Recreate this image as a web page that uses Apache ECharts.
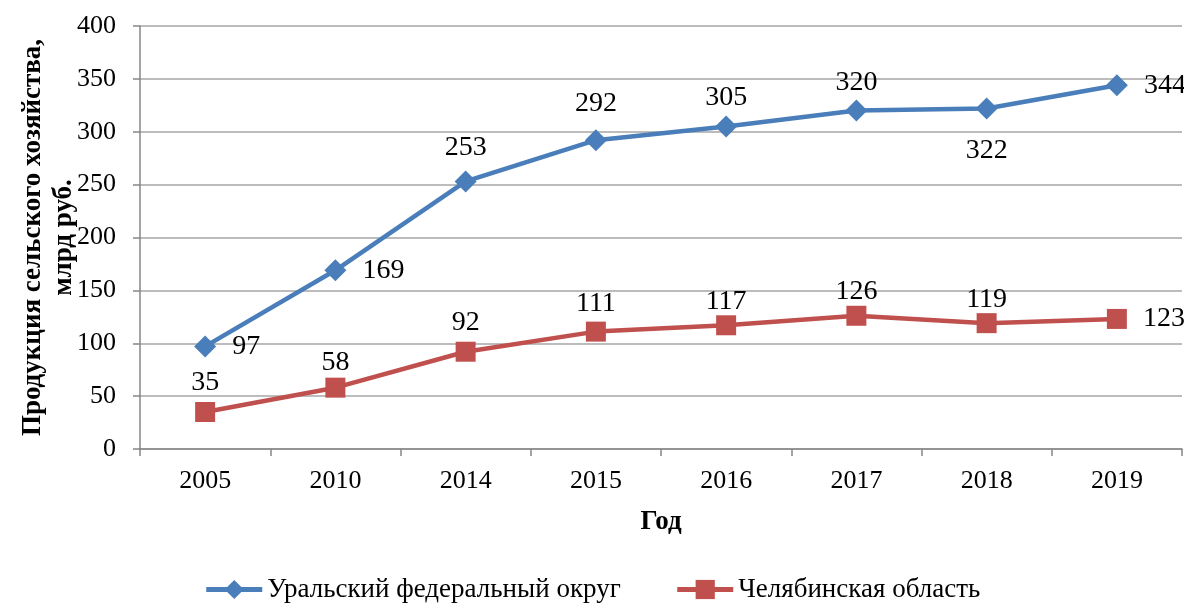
<!DOCTYPE html>
<html>
<head>
<meta charset="utf-8">
<script src="https://cdn.jsdelivr.net/npm/echarts@6/dist/echarts.min.js"></script>
<style>
  html, body { margin: 0; padding: 0; background: #fff; }
  #chart { width: 1184px; height: 604px; }
</style>
</head>
<body>
<div id="chart"></div>
<script>
// данные
var years = ['2005', '2010', '2014', '2015', '2016', '2017', '2018', '2019'];
var uralValues = [97, 169, 253, 292, 305, 320, 322, 344];
var chelValues = [35, 58, 92, 111, 117, 126, 119, 123];
var seriesNames = ['Уральский федеральный округ', 'Челябинская область'];

// где стоят подписи (как в Excel)
var uralLabelPos = ['right', 'right', 'top', 'top', 'top', 'top', 'bottom', 'right'];
var uralLabelGap = [16, 16, 9, 12, 4, 3, 17, 16];
var chelLabelPos = ['top', 'top', 'top', 'top', 'top', 'top', 'top', 'right'];
var chelLabelGap = [5, 1, 5, 4, 0, 0, 0, 16];

var font = 'Liberation Serif, Times New Roman, serif';

function withLabels(values, pos, gap) {
    var out = [];
    for (var i = 0; i < values.length; i++) {
        out.push({ value: values[i], label: { position: pos[i], distance: gap[i] } });
    }
    return out;
}

var myChart = echarts.init(document.getElementById('chart'));
var option = {
    animation: false,
    textStyle: { fontFamily: font },
    grid: { left: 140, right: 2, top: 26, bottom: 155, outerBoundsMode: 'none', containLabel: false },
    legend: {
        top: 571,
        left: 'center',
        itemWidth: 56,
        itemHeight: 24,
        itemGap: 54,
        lineStyle: { width: 5 },
        textStyle: { fontFamily: font, fontSize: 27, color: '#000' },
        data: seriesNames
    },
    xAxis: {
        type: 'category',
        data: years,
        boundaryGap: true,
        name: 'Год',
        nameLocation: 'middle',
        nameGap: 60,
        nameMoveOverlap: false,
        nameTextStyle: { fontFamily: font, fontSize: 27, fontWeight: 'bold', color: '#000' },
        axisLine: { lineStyle: { color: '#868686', width: 1.5 } },
        axisTick: { show: true, length: 7, lineStyle: { color: '#868686', width: 1.5 } },
        axisLabel: { fontFamily: font, fontSize: 26, color: '#000', margin: 19 }
    },
    yAxis: {
        type: 'value',
        min: 0,
        max: 400,
        interval: 50,
        name: 'Продукция сельского хозяйства,\nмлрд руб.',
        nameLocation: 'middle',
        nameRotate: 90,
        nameGap: 60,
        nameMoveOverlap: false,
        nameTextStyle: { fontFamily: font, fontSize: 27, fontWeight: 'bold', color: '#000', lineHeight: 31 },
        axisLine: { show: true, lineStyle: { color: '#868686', width: 1.5 } },
        axisTick: { show: true, length: 7, lineStyle: { color: '#868686', width: 1.5 } },
        axisLabel: { fontFamily: font, fontSize: 26, color: '#000', margin: 24 },
        splitLine: { lineStyle: { color: '#a6a6a6', width: 1.5 } }
    },
    series: [
        {
            name: seriesNames[0],
            type: 'line',
            data: withLabels(uralValues, uralLabelPos, uralLabelGap),
            symbol: 'diamond',
            symbolSize: 22,
            itemStyle: { color: '#4a7ebb' },
            lineStyle: { color: '#4a7ebb', width: 4.5 },
            label: { show: true, fontFamily: font, fontSize: 28, color: '#000' }
        },
        {
            name: seriesNames[1],
            type: 'line',
            data: withLabels(chelValues, chelLabelPos, chelLabelGap),
            symbol: 'rect',
            symbolSize: 20,
            itemStyle: { color: '#c0504d' },
            lineStyle: { color: '#c0504d', width: 4.5 },
            label: { show: true, fontFamily: font, fontSize: 28, color: '#000' }
        }
    ]
};
myChart.setOption(option);
</script>
</body>
</html>
